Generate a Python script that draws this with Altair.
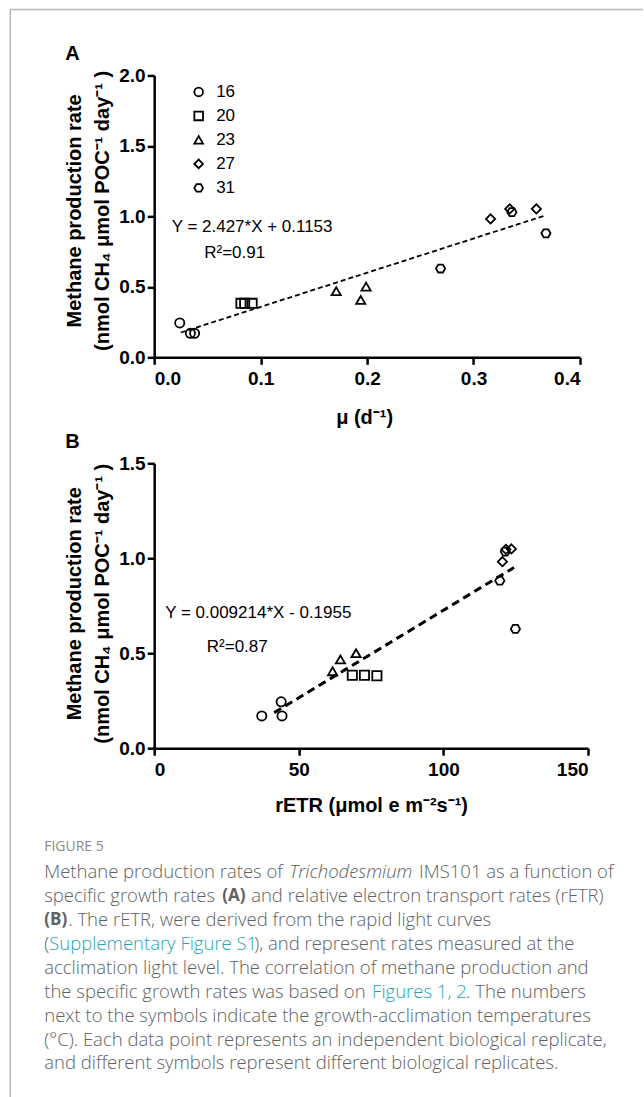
import altair as alt
import pandas as pd

# ---------------- data ----------------
temps = ['16', '16', '16', '20', '20', '20', '23', '23', '23',
         '27', '27', '27', '31', '31', '31']
mu = [0.024, 0.034, 0.038, 0.0815, 0.085, 0.092, 0.171, 0.194, 0.199,
      0.316, 0.334, 0.359, 0.269, 0.336, 0.368]
ch4_a = [0.244, 0.170, 0.170, 0.383, 0.383, 0.383, 0.469, 0.407, 0.502,
         0.982, 1.053, 1.053, 0.630, 1.030, 0.880]
retr = [43.9, 37.2, 44.2, 68.5, 72.7, 77.0, 64.4, 61.7, 69.8,
        120.4, 121.6, 123.5, 124.9, 121.4, 119.5]
ch4_b = [0.244, 0.170, 0.170, 0.384, 0.384, 0.381, 0.467, 0.405, 0.500,
         0.982, 1.047, 1.049, 0.628, 1.035, 0.882]

fit_a_x = [0.025, 0.368]
fit_a_y = [0.176, 1.008]
fit_b_x = [41.5, 124.4]
fit_b_y = [0.187, 0.951]

temp_levels = ['16', '20', '23', '27', '31']
eq_a = ['Y = 2.427*X + 0.1153', 'R²=0.91']
eq_a_x = [0.0164, 0.047]
eq_a_y = [0.922, 0.738]
eq_b = ['Y = 0.009214*X - 0.1955', 'R²=0.87']
eq_b_x = [3.8, 18.2]
eq_b_y = [0.712, 0.533]

caption_segments = [
    # (line, text, style)
    (0, 'Methane production rates of', 'n'), (0, 'Trichodesmium', 'i'), (0, 'IMS101 as a function of', 'n'),
    (1, 'specific growth rates', 'n'), (1, '(A)', 'b'), (1, 'and relative electron transport rates (rETR)', 'n'),
    (2, '(B)', 'b'), (2, '. The rETR, were derived from the rapid light curves', 'n'),
    (3, '(', 'n'), (3, 'Supplementary Figure S1', 'l'), (3, '), and represent rates measured at the', 'n'),
    (4, 'acclimation light level. The correlation of methane production and', 'n'),
    (5, 'the specific growth rates was based on', 'n'), (5, 'Figures 1, 2', 'l'), (5, '. The numbers', 'n'),
    (6, 'next to the symbols indicate the growth-acclimation temperatures', 'n'),
    (7, '(°C). Each data point represents an independent biological replicate,', 'n'),
    (8, 'and different symbols represent different biological replicates.', 'n'),
]
# layout (pixel starts of caption segments, absolute page coords)
seg_x_abs = [44, 289, 419, 44, 222, 251, 44, 68, 44, 49, 254, 44, 44, 372, 466, 44, 44, 44]
line_y_abs = [872, 896, 920, 944, 968, 992, 1016, 1040, 1063]

# ---------------- layout constants ----------------
FONT = 'Liberation Sans'
A_W, A_H = 426, 282
B_W, B_H = 434, 285
ORIGIN_X = 154
A_Y0 = 75
SPACING = 106
CAP_Y0 = A_Y0 + A_H + SPACING + B_H + SPACING

hexagon = 'M-1,0L-0.5,-0.866L0.5,-0.866L1,0L0.5,0.866L-0.5,0.866Z'
shape_range = ['circle', 'square', 'triangle-up', 'diamond', hexagon]

df_a = pd.DataFrame({'x': mu, 'y': ch4_a, 'T': temps})
df_b = pd.DataFrame({'x': retr, 'y': ch4_b, 'T': temps})
fit_a = pd.DataFrame({'x': fit_a_x, 'y': fit_a_y})
fit_b = pd.DataFrame({'x': fit_b_x, 'y': fit_b_y})
eqa = pd.DataFrame({'x': eq_a_x, 'y': eq_a_y, 't': eq_a})
eqb = pd.DataFrame({'x': eq_b_x, 'y': eq_b_y, 't': eq_b})

ytitle = ['Methane production rate', '(nmol CH₄ μmol POC⁻¹ day⁻¹ )']

# ---------------- panel A ----------------
xA = alt.X('x:Q', scale=alt.Scale(domain=[0, 0.4], nice=False),
           axis=alt.Axis(values=[0, 0.1, 0.2, 0.3, 0.4], format='.1f', title='μ (d⁻¹)',
                         titleX=A_W / 2 - 3, titleY=60, titleBaseline='middle', labelPadding=5))
yA = alt.Y('y:Q', scale=alt.Scale(domain=[0, 2], nice=False),
           axis=alt.Axis(values=[0, 0.5, 1.0, 1.5, 2.0], format='.1f', title=ytitle,
                         titleX=-80, titleY=135, titleAngle=270, titleBaseline='middle',
                         titleAlign='center', titleLineHeight=28, labelPadding=2))

pts_a = alt.Chart(df_a).mark_point(filled=False, color='black', strokeWidth=1.8, size=85, opacity=1).encode(
    x=xA, y=yA,
    shape=alt.Shape('T:N', scale=alt.Scale(domain=temp_levels, range=shape_range),
                    legend=alt.Legend(orient='none', legendX=36, legendY=8, title=None,
                                      labelFont=FONT, labelFontSize=17, labelColor='black',
                                      symbolStrokeColor='black', symbolFillColor='white',
                                      symbolStrokeWidth=1.8, symbolSize=75, labelOffset=9,
                                      rowPadding=6, padding=0)))
line_a = alt.Chart(fit_a).mark_line(color='black', strokeWidth=1.8, strokeDash=[5, 3]).encode(
    x=alt.X('x:Q'), y=alt.Y('y:Q'))
text_a = alt.Chart(eqa).mark_text(align='left', baseline='middle', font=FONT, fontSize=17, color='black').encode(
    x='x:Q', y='y:Q', text='t:N')
label_a = alt.Chart(pd.DataFrame({'t': ['A']})).mark_text(
    align='left', baseline='middle', font=FONT, fontSize=20, fontWeight='bold', color='black').encode(
    x=alt.value(-89), y=alt.value(-21), text='t:N')
frame_v = alt.Chart(pd.DataFrame({'t': [0]})).mark_rule(color='#b8b8b8', strokeWidth=1.5).encode(
    x=alt.value(10 - ORIGIN_X), y=alt.value(9 - A_Y0), y2=alt.value(1097 - A_Y0))
frame_h = alt.Chart(pd.DataFrame({'t': [0]})).mark_rule(color='#b8b8b8', strokeWidth=1.5).encode(
    x=alt.value(10 - ORIGIN_X), x2=alt.value(643 - ORIGIN_X), y=alt.value(9 - A_Y0))

panelA = alt.layer(frame_v, frame_h, line_a, pts_a, text_a, label_a).properties(width=A_W, height=A_H)

# ---------------- panel B ----------------
xB = alt.X('x:Q', scale=alt.Scale(domain=[0, 150], nice=False),
           axis=alt.Axis(values=[0, 50, 100, 150], format='d', title='rETR (μmol e m⁻²s⁻¹)',
                         titleX=B_W / 2, titleY=57, titleBaseline='middle', labelPadding=5))
yB = alt.Y('y:Q', scale=alt.Scale(domain=[0, 1.5], nice=False),
           axis=alt.Axis(values=[0, 0.5, 1.0, 1.5], format='.1f', title=ytitle,
                         titleX=-80, titleY=140, titleAngle=270, titleBaseline='middle',
                         titleAlign='center', titleLineHeight=28, labelPadding=2))
pts_b = alt.Chart(df_b).mark_point(filled=False, color='black', strokeWidth=1.8, size=85, opacity=1).encode(
    x=xB, y=yB,
    shape=alt.Shape('T:N', scale=alt.Scale(domain=temp_levels, range=shape_range), legend=None))
line_b = alt.Chart(fit_b).mark_line(color='black', strokeWidth=3, strokeDash=[8, 5]).encode(
    x=alt.X('x:Q'), y=alt.Y('y:Q'))
text_b = alt.Chart(eqb).mark_text(align='left', baseline='middle', font=FONT, fontSize=17, color='black').encode(
    x='x:Q', y='y:Q', text='t:N')
label_b = alt.Chart(pd.DataFrame({'t': ['B']})).mark_text(
    align='left', baseline='middle', font=FONT, fontSize=20, fontWeight='bold', color='black').encode(
    x=alt.value(-89), y=alt.value(-21), text='t:N')
panelB = alt.layer(line_b, pts_b, text_b, label_b).properties(width=B_W, height=B_H)

# ---------------- caption ----------------
cap_rows = []
for (ln, txt, st), xa in zip(caption_segments, seg_x_abs):
    cap_rows.append({'t': txt, 'x': xa - ORIGIN_X, 'y': line_y_abs[ln] - CAP_Y0, 's': st})
cap_df = pd.DataFrame(cap_rows)
CAP_FONT = 'Open Sans'
CAP_SIZE = 18.5
GRAY = '#606164'
TEAL = '#2a9fb8'


def cap_layer(style, size=CAP_SIZE, **kw):
    return alt.Chart(cap_df[cap_df['s'] == style]).mark_text(
        align='left', baseline='middle', font=CAP_FONT, fontSize=size, lineHeight=20, **kw).encode(
        x=alt.X('x:Q', scale=None, axis=None), y=alt.Y('y:Q', scale=None, axis=None), text='t:N')


cap_n = cap_layer('n', color=GRAY, fontWeight=300)
cap_i = cap_layer('i', color=GRAY, fontWeight=300, fontStyle='italic')
cap_b = cap_layer('b', size=17, color=GRAY, fontWeight='bold')
cap_l = cap_layer('l', color=TEAL, fontWeight=300)
fig_lbl = alt.Chart(pd.DataFrame({'t': ['FIGURE 5']})).mark_text(
    align='left', baseline='middle', font=CAP_FONT, fontSize=14, color='#8c8c8c').encode(
    x=alt.value(44 - ORIGIN_X), y=alt.value(847 - CAP_Y0), text='t:N')
caption = alt.layer(fig_lbl, cap_n, cap_i, cap_b, cap_l).properties(width=A_W, height=200)

chart = alt.vconcat(panelA, panelB, caption, spacing=SPACING, bounds='flush').resolve_scale(
    x='independent', y='independent', shape='independent').resolve_legend(shape='independent').properties(
    padding={'left': 9.25, 'top': 8.25, 'right': 0, 'bottom': 0}, background='white'
).configure_view(stroke=None).configure_axis(
    domainColor='black', domainWidth=2.5, tickColor='black', tickWidth=2.5, tickSize=7,
    labelFont=FONT, labelFontSize=19, labelFontWeight='bold', labelColor='black',
    titleFont=FONT, titleFontSize=20, titleFontWeight='bold', titleColor='black', grid=False)

chart.save('out.html', embed_options={'renderer': 'svg', 'actions': False})
